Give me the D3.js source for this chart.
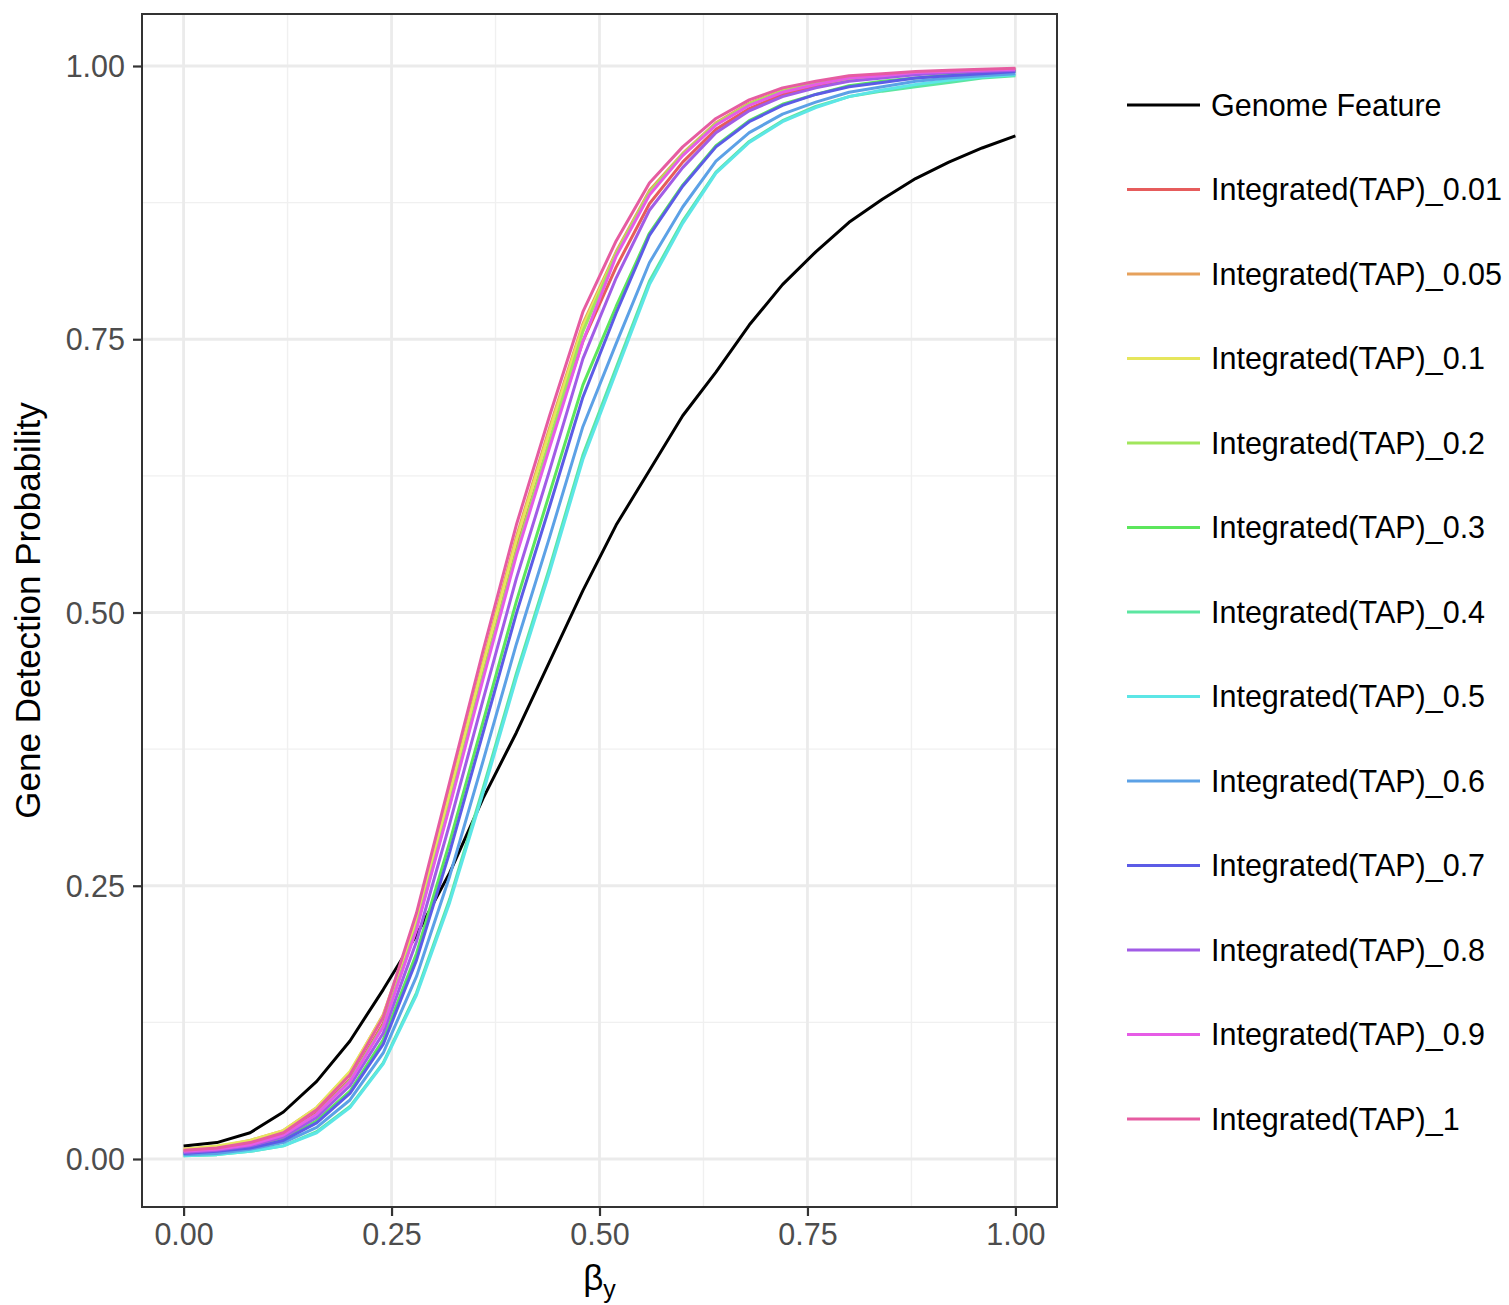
<!DOCTYPE html>
<html>
<head>
<meta charset="utf-8">
<script src="https://cdn.jsdelivr.net/npm/d3@7"></script>
<style>
  html, body { margin: 0; padding: 0; background: #ffffff; }
  svg { display: block; }
  text { font-family: "Liberation Sans", Arial, sans-serif; }
</style>
</head>
<body>
<svg id="chart" width="1509" height="1305"></svg>
<script>
// ---- data ----
const betaY = [0, 0.04, 0.08, 0.12, 0.16, 0.2, 0.24, 0.28, 0.32, 0.36, 0.4, 0.44, 0.48,
               0.52, 0.56, 0.6, 0.64, 0.68, 0.72, 0.76, 0.8, 0.84, 0.88, 0.92, 0.96, 1.0];

const seriesNames = ["Genome Feature", "Integrated(TAP)_0.01", "Integrated(TAP)_0.05",
  "Integrated(TAP)_0.1", "Integrated(TAP)_0.2", "Integrated(TAP)_0.3", "Integrated(TAP)_0.4",
  "Integrated(TAP)_0.5", "Integrated(TAP)_0.6", "Integrated(TAP)_0.7", "Integrated(TAP)_0.8",
  "Integrated(TAP)_0.9", "Integrated(TAP)_1"];

const seriesColors = ["#000000", "#E65C5C", "#E6A15C", "#E6E65C", "#A1E65C", "#5CE65C", "#5CE6A1",
  "#5CE6E6", "#5CA1E6", "#5C5CE6", "#A15CE6", "#E65CE6", "#E65CA1"];

const genomeFeature = [0.012, 0.015, 0.024, 0.043, 0.071, 0.108, 0.155, 0.205, 0.262, 0.33, 0.39, 0.455, 0.52,
  0.58, 0.63, 0.68, 0.72, 0.763, 0.80, 0.83, 0.857, 0.878, 0.897, 0.912, 0.925, 0.936];
const tap001 = [0.007, 0.009, 0.014, 0.022, 0.042, 0.073, 0.124, 0.214, 0.329, 0.446, 0.559, 0.656, 0.748,
  0.816, 0.874, 0.912, 0.942, 0.961, 0.974, 0.981, 0.987, 0.990, 0.993, 0.994, 0.996, 0.997];
const tap005 = [0.009, 0.011, 0.017, 0.026, 0.047, 0.079, 0.132, 0.219, 0.336, 0.455, 0.569, 0.669, 0.764,
  0.830, 0.886, 0.920, 0.948, 0.966, 0.978, 0.984, 0.990, 0.992, 0.994, 0.995, 0.996, 0.997];
const tap01 = [0.009, 0.012, 0.017, 0.026, 0.047, 0.080, 0.131, 0.218, 0.334, 0.452, 0.566, 0.666, 0.762,
  0.828, 0.884, 0.919, 0.947, 0.965, 0.977, 0.984, 0.989, 0.992, 0.994, 0.995, 0.996, 0.997];
const tap02 = [0.007, 0.009, 0.014, 0.022, 0.041, 0.072, 0.122, 0.212, 0.325, 0.442, 0.555, 0.657, 0.757,
  0.828, 0.884, 0.919, 0.947, 0.965, 0.977, 0.984, 0.988, 0.991, 0.993, 0.994, 0.995, 0.996];
const tap03 = [0.005, 0.007, 0.011, 0.018, 0.035, 0.062, 0.109, 0.188, 0.290, 0.400, 0.510, 0.609, 0.708,
  0.780, 0.847, 0.891, 0.927, 0.950, 0.965, 0.974, 0.982, 0.986, 0.989, 0.992, 0.994, 0.995];
const tap04 = [0.003, 0.004, 0.007, 0.012, 0.025, 0.048, 0.088, 0.152, 0.238, 0.339, 0.444, 0.541, 0.644,
  0.724, 0.803, 0.858, 0.903, 0.931, 0.950, 0.963, 0.972, 0.977, 0.981, 0.985, 0.989, 0.991];
const tap05 = [0.003, 0.004, 0.007, 0.012, 0.024, 0.047, 0.087, 0.150, 0.235, 0.335, 0.440, 0.537, 0.640,
  0.720, 0.800, 0.856, 0.902, 0.930, 0.949, 0.962, 0.972, 0.978, 0.983, 0.987, 0.990, 0.992];
const tap06 = [0.004, 0.005, 0.009, 0.015, 0.029, 0.054, 0.097, 0.167, 0.259, 0.364, 0.471, 0.569, 0.670,
  0.746, 0.820, 0.871, 0.913, 0.939, 0.956, 0.967, 0.976, 0.981, 0.986, 0.989, 0.991, 0.993];
const tap07 = [0.005, 0.007, 0.010, 0.017, 0.033, 0.060, 0.105, 0.182, 0.281, 0.390, 0.499, 0.597, 0.697,
  0.774, 0.845, 0.890, 0.926, 0.949, 0.964, 0.974, 0.981, 0.985, 0.989, 0.991, 0.993, 0.995];
const tap08 = [0.006, 0.008, 0.012, 0.020, 0.038, 0.067, 0.115, 0.199, 0.307, 0.420, 0.531, 0.630, 0.732,
  0.806, 0.868, 0.907, 0.939, 0.959, 0.972, 0.980, 0.986, 0.989, 0.992, 0.994, 0.995, 0.996];
const tap09 = [0.007, 0.009, 0.013, 0.022, 0.041, 0.071, 0.121, 0.210, 0.323, 0.439, 0.552, 0.651, 0.748,
  0.826, 0.882, 0.918, 0.946, 0.964, 0.976, 0.983, 0.989, 0.991, 0.994, 0.995, 0.996, 0.997];
const tap1 = [0.008, 0.010, 0.015, 0.024, 0.045, 0.077, 0.130, 0.225, 0.345, 0.465, 0.580, 0.680, 0.775,
  0.840, 0.893, 0.926, 0.952, 0.969, 0.980, 0.986, 0.991, 0.993, 0.995, 0.996, 0.997, 0.998];

const seriesValues = [genomeFeature, tap001, tap005, tap01, tap02, tap03, tap04, tap05, tap06, tap07, tap08, tap09, tap1];

const xTicks = [0, 0.25, 0.5, 0.75, 1.0];
const xMinor = [0.125, 0.375, 0.625, 0.875];
const yTicks = [0, 0.25, 0.5, 0.75, 1.0];
const yMinor = [0.125, 0.375, 0.625, 0.875];

// ---- layout ----
const panel = { left: 142, right: 1057, top: 14, bottom: 1207 };
const svg = d3.select("#chart");

const x = d3.scaleLinear().domain([-0.05, 1.05]).range([panel.left, panel.right]);
const yPix0 = 1159, yPix1 = 66;
const yPerUnit = yPix0 - yPix1;
const y = d3.scaleLinear()
  .domain([(yPix0 - panel.bottom) / yPerUnit, (yPix0 - panel.top) / yPerUnit])
  .range([panel.bottom, panel.top]);

// background
svg.append("rect").attr("x", panel.left).attr("y", panel.top)
  .attr("width", panel.right - panel.left).attr("height", panel.bottom - panel.top)
  .attr("fill", "#ffffff");

const grid = svg.append("g");
grid.selectAll(".xminor").data(xMinor).join("line")
  .attr("x1", d => x(d)).attr("x2", d => x(d))
  .attr("y1", panel.top).attr("y2", panel.bottom)
  .attr("stroke", "#F0F0F0").attr("stroke-width", 1.4);
grid.selectAll(".yminor").data(yMinor).join("line")
  .attr("y1", d => y(d)).attr("y2", d => y(d))
  .attr("x1", panel.left).attr("x2", panel.right)
  .attr("stroke", "#F0F0F0").attr("stroke-width", 1.4);
grid.selectAll(".xmajor").data(xTicks).join("line")
  .attr("x1", d => x(d)).attr("x2", d => x(d))
  .attr("y1", panel.top).attr("y2", panel.bottom)
  .attr("stroke", "#EBEBEB").attr("stroke-width", 2.8);
grid.selectAll(".ymajor").data(yTicks).join("line")
  .attr("y1", d => y(d)).attr("y2", d => y(d))
  .attr("x1", panel.left).attr("x2", panel.right)
  .attr("stroke", "#EBEBEB").attr("stroke-width", 2.8);

// lines
const line = d3.line().x((d, i) => x(betaY[i])).y(d => y(d));
const linesG = svg.append("g");
seriesValues.forEach((vals, k) => {
  linesG.append("path").datum(vals)
    .attr("d", line)
    .attr("fill", "none")
    .attr("stroke", seriesColors[k])
    .attr("stroke-width", 3)
    .attr("stroke-linejoin", "round");
});

// panel border
svg.append("rect").attr("x", panel.left).attr("y", panel.top)
  .attr("width", panel.right - panel.left).attr("height", panel.bottom - panel.top)
  .attr("fill", "none").attr("stroke", "#333333").attr("stroke-width", 2);

// axes
const fmt = d3.format(".2f");
const xAxis = d3.axisBottom(x).tickValues(xTicks).tickFormat(fmt).tickSize(9).tickPadding(6);
const gx = svg.append("g").attr("transform", `translate(0,${panel.bottom})`).call(xAxis);
gx.select(".domain").remove();
gx.selectAll(".tick line").attr("stroke", "#333333").attr("stroke-width", 2.2);
gx.selectAll(".tick text").attr("fill", "#4D4D4D").attr("font-size", 30.5)
  .attr("font-family", "Liberation Sans, Arial, sans-serif").attr("dy", "0.74em");

const yAxis = d3.axisLeft(y).tickValues(yTicks).tickFormat(fmt).tickSize(9).tickPadding(8);
const gy = svg.append("g").attr("transform", `translate(${panel.left},0)`).call(yAxis);
gy.select(".domain").remove();
gy.selectAll(".tick line").attr("stroke", "#333333").attr("stroke-width", 2.2);
gy.selectAll(".tick text").attr("fill", "#4D4D4D").attr("font-size", 30.5)
  .attr("font-family", "Liberation Sans, Arial, sans-serif").attr("dy", "0.35em");

// axis titles
svg.append("text")
  .attr("transform", `translate(40,${(panel.top + panel.bottom) / 2 + 0}) rotate(-90)`)
  .attr("text-anchor", "middle")
  .attr("font-size", 35)
  .attr("fill", "#000")
  .text("Gene Detection Probability");

const xt = svg.append("text")
  .attr("x", x(0.5)).attr("y", 1290)
  .attr("text-anchor", "middle")
  .attr("font-size", 35)
  .attr("fill", "#000");
xt.append("tspan").text("β");
xt.append("tspan").attr("font-size", 25).attr("dy", 8).text("y");

// legend
const legend = svg.append("g");
const legY0 = 105, legStep = 84.5;
seriesNames.forEach((name, k) => {
  const yy = legY0 + k * legStep;
  legend.append("line")
    .attr("x1", 1127).attr("x2", 1200).attr("y1", yy).attr("y2", yy)
    .attr("stroke", seriesColors[k]).attr("stroke-width", 3);
  legend.append("text")
    .attr("x", 1211).attr("y", yy).attr("dy", "0.35em")
    .attr("font-size", 30.5).attr("fill", "#000")
    .text(name);
});
</script>
</body>
</html>
